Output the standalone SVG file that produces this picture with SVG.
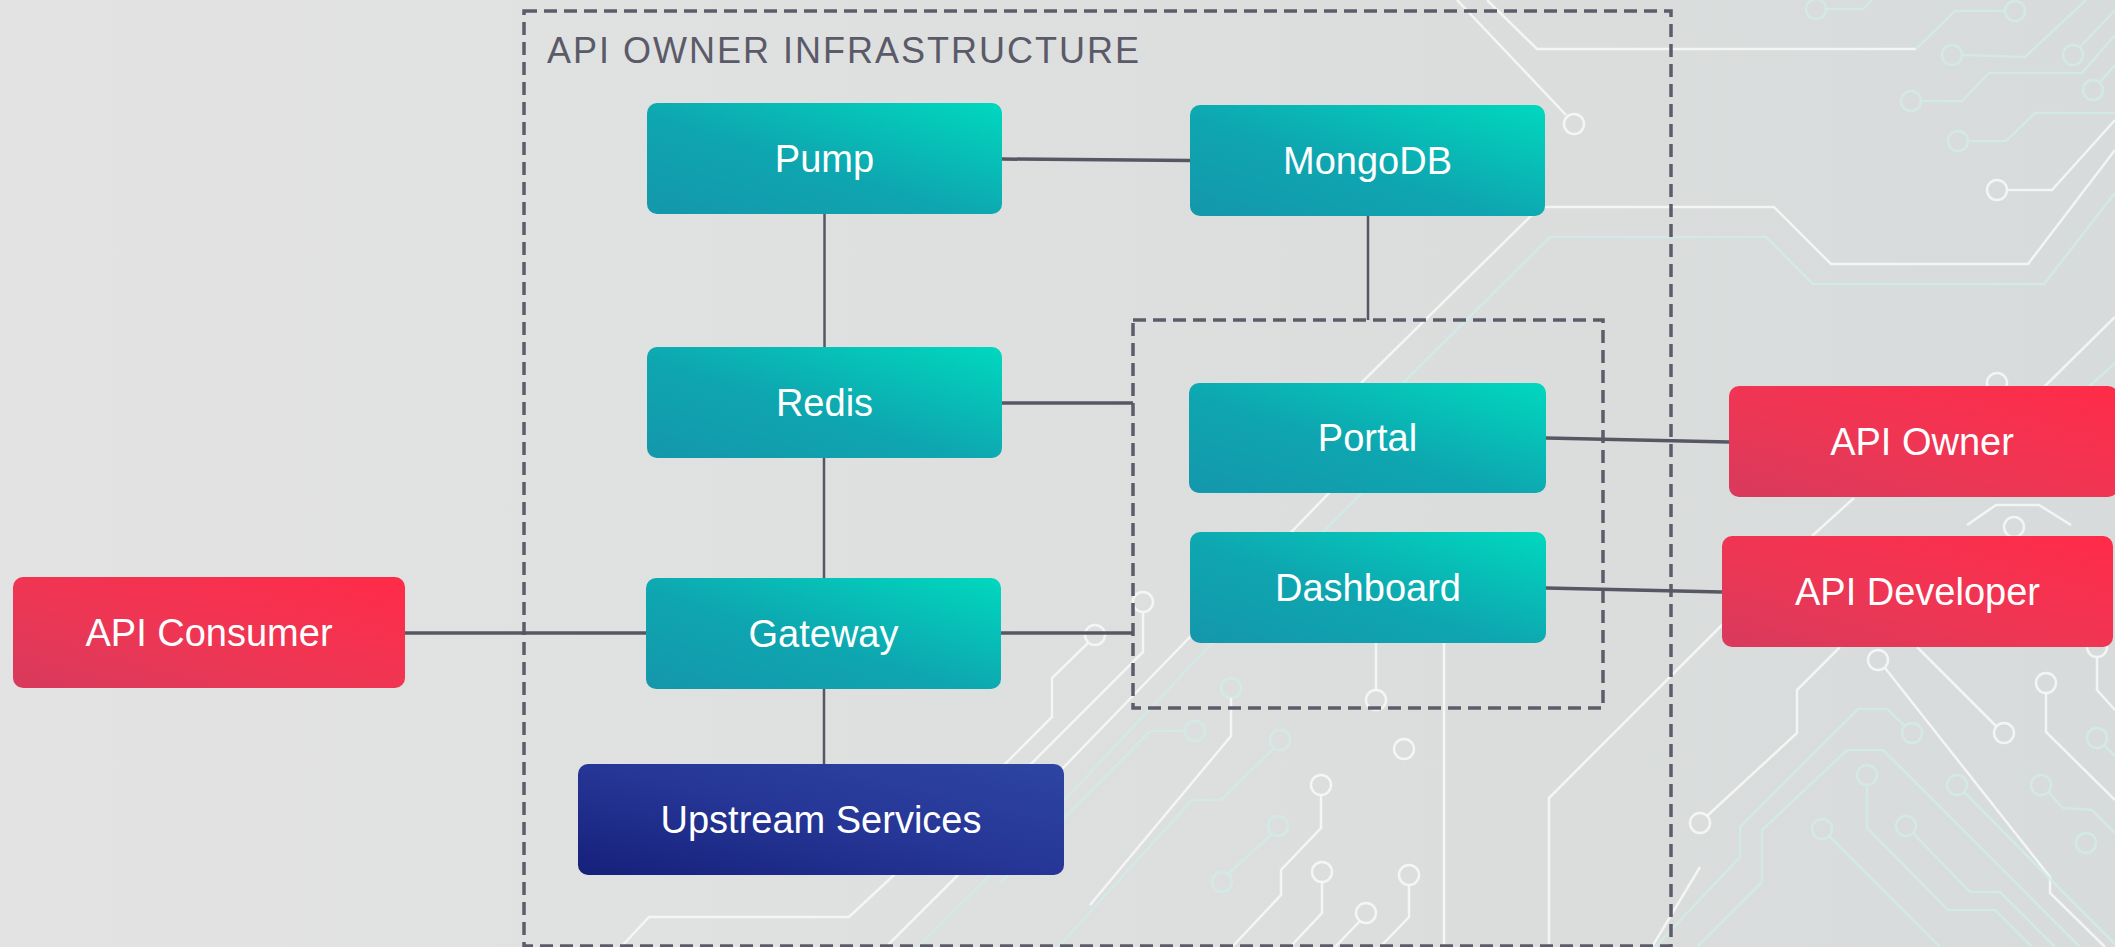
<svg xmlns="http://www.w3.org/2000/svg" width="2115" height="947" viewBox="0 0 2115 947">
<defs>
<linearGradient id="bg" x1="0" y1="0" x2="1" y2="0">
<stop offset="0" stop-color="#e3e3e3"/>
<stop offset="1" stop-color="#d8dbdb"/>
</linearGradient>
<linearGradient id="teal" x1="0" y1="1" x2="1" y2="0">
<stop offset="0" stop-color="#1497ab"/>
<stop offset="0.45" stop-color="#0ea6b0"/>
<stop offset="1" stop-color="#00d8be"/>
</linearGradient>
<linearGradient id="red" x1="0" y1="1" x2="1" y2="0">
<stop offset="0" stop-color="#d83a5c"/>
<stop offset="0.45" stop-color="#ee3654"/>
<stop offset="1" stop-color="#ff2b48"/>
</linearGradient>
<linearGradient id="blue" x1="0" y1="1" x2="1" y2="0">
<stop offset="0" stop-color="#15207a"/>
<stop offset="0.5" stop-color="#263696"/>
<stop offset="1" stop-color="#2d45a2"/>
</linearGradient>
<style>
.w{fill:none;stroke:#f6f7f7;stroke-width:2.5;opacity:0.9}
.t{fill:none;stroke:#d2eae5;stroke-width:2.5;opacity:0.9}
.c{fill:none;stroke:#f6f7f7;stroke-width:2.5;opacity:0.9}
.ct{fill:none;stroke:#d2eae5;stroke-width:2.5;opacity:0.9}
.dash{fill:none;stroke:#5c5c6a;stroke-width:3.5;stroke-dasharray:13 7}
.conn{fill:none;stroke:#575764;stroke-width:3.5}
.connv{fill:none;stroke:#575764;stroke-width:2.5}
.lbl{font-family:"Liberation Sans",Arial,sans-serif;font-size:38px;fill:#ffffff;text-anchor:middle}
.title{font-family:"Liberation Sans",Arial,sans-serif;font-size:36px;fill:#5a5a68;letter-spacing:2px}
</style>
</defs>
<rect width="2115" height="947" fill="url(#bg)"/>
<g id="circuit">
<path class="w" d="M1487,0 L1537,49 L1916,49"/>
<path class="t" d="M1916,49 L1955,11 L2005,11"/>
<circle class="ct" cx="2015" cy="11" r="10"/>
<path class="w" d="M1457,0 L1566,115"/>
<circle class="c" cx="1574" cy="124" r="10"/>
<path class="w" d="M2115,150 L2028,264 L1831,264 L1774,207 L1540,207 L1362,382 L1362,460 L1329,493 L1187,640 L1000,833 L958,875 L886,947"/>
<path class="t" d="M2115,193 L2044,284 L1813,284 L1766,237 L1550,237 L1404,382 L1404,455 L1362,493 L1210,645 L1058,807 L990,875 L918,947"/>
<path class="w" d="M1444,643 L1444,947"/>
<path class="w" d="M1376,643 L1376,690"/>
<circle class="c" cx="1376" cy="700" r="10"/>
<circle class="c" cx="1095" cy="635" r="10"/>
<path class="w" d="M1088,643 L1052,678 L1052,717 L894,875 L849,917 L649,917 L621,947"/>
<circle class="c" cx="1143" cy="602" r="10"/>
<path class="w" d="M1143,612 L1143,652 L1000,795"/>
<circle class="ct" cx="1280" cy="740" r="10"/>
<path class="t" d="M1274,748 L1221,800 L1192,800 L1058,947"/>
<circle class="ct" cx="1231" cy="688" r="10"/>
<path class="w" d="M1231,698 L1231,736 L1090,905"/>
<circle class="ct" cx="1195" cy="731" r="10"/>
<path class="t" d="M1185,731 L1150,731 L1000,883"/>
<circle class="c" cx="1321" cy="785" r="10"/>
<path class="w" d="M1321,795 L1321,828 L1281,870 L1281,895 L1232,947"/>
<circle class="ct" cx="1278" cy="826" r="10"/>
<path class="t" d="M1272,834 L1228,874"/>
<circle class="ct" cx="1222" cy="882" r="10"/>
<circle class="c" cx="1322" cy="872" r="10"/>
<path class="w" d="M1322,882 L1322,913 L1290,947"/>
<circle class="c" cx="1366" cy="913" r="10"/>
<path class="w" d="M1360,921 L1335,947"/>
<circle class="c" cx="1409" cy="875" r="10"/>
<path class="w" d="M1409,885 L1409,917 L1380,947"/>
<circle class="c" cx="1404" cy="749" r="10"/>
<path class="w" d="M1549,947 L1549,798 L1745,602"/>
<path class="w" d="M1700,867 L1652,947"/>
<circle class="c" cx="1700" cy="823" r="10"/>
<path class="w" d="M1707,816 L1797,733 L1797,690 L1840,647"/>
<circle class="c" cx="1878" cy="660" r="10"/>
<path class="w" d="M1885,668 L2050,877 L2050,893 L2105,947"/>
<path class="w" d="M1917,647 L1996,726"/>
<circle class="c" cx="2004" cy="733" r="10"/>
<circle class="c" cx="2046" cy="683" r="10"/>
<path class="w" d="M2046,693 L2046,732 L2115,800"/>
<circle class="c" cx="2097" cy="647" r="10"/>
<path class="w" d="M2097,657 L2097,690 L2115,710"/>
<circle class="ct" cx="1912" cy="733" r="10"/>
<path class="t" d="M1905,726 L1887,709 L1858,709 L1740,827 L1740,857 L1655,947"/>
<path class="t" d="M2080,947 L1883,750 L1847,750 L1762,830 L1762,882 L1697,947"/>
<circle class="ct" cx="1867" cy="775" r="10"/>
<path class="t" d="M1867,785 L1867,828 L1948,910 L1995,910 L2032,947"/>
<circle class="ct" cx="1906" cy="826" r="10"/>
<path class="t" d="M1913,833 L1970,892 L2000,892 L2055,947"/>
<circle class="ct" cx="1822" cy="829" r="10"/>
<path class="t" d="M1829,836 L1940,947"/>
<circle class="ct" cx="1957" cy="785" r="10"/>
<path class="t" d="M1964,792 L2053,882 L2115,944"/>
<circle class="ct" cx="2041" cy="785" r="10"/>
<path class="t" d="M2048,792 L2063,808 L2092,810 L2115,833"/>
<circle class="ct" cx="2086" cy="843" r="10"/>
<circle class="ct" cx="2097" cy="738" r="10"/>
<path class="t" d="M2104,745 L2115,756"/>
<circle class="ct" cx="1816" cy="9" r="10"/>
<path class="t" d="M1826,9 L1863,9 L1872,0"/>
<circle class="ct" cx="1952" cy="55" r="10"/>
<path class="t" d="M1962,55 L2025,57 L2086,0"/>
<circle class="ct" cx="2073" cy="55" r="10"/>
<path class="t" d="M2080,47 L2115,10"/>
<circle class="ct" cx="1911" cy="101" r="10"/>
<path class="t" d="M1921,101 L1962,101 L1989,73 L2082,73 L2115,35"/>
<circle class="ct" cx="1958" cy="141" r="10"/>
<path class="t" d="M1968,141 L2006,141 L2035,113 L2115,113"/>
<circle class="c" cx="1997" cy="190" r="10"/>
<path class="w" d="M2007,190 L2052,190 L2115,120"/>
<circle class="ct" cx="2093" cy="90" r="10"/>
<path class="t" d="M2100,82 L2115,65"/>
<circle class="c" cx="1997" cy="383" r="10"/>
<path class="w" d="M2044,387 L2115,317"/>
<path class="t" d="M2082,393 L2115,363"/>
<path class="w" d="M1812,536 L1854,498"/>
<path class="w" d="M1967,525 L1996,505 L2039,505 L2071,525"/>
<circle class="c" cx="2014" cy="527" r="10"/>
</g>
<g id="groups">
<rect id="api-owner-infrastructure" class="dash" x="524" y="11" width="1147" height="935"/>
<text class="title" x="547" y="63">API OWNER INFRASTRUCTURE</text>
<rect id="portal-dashboard-group" class="dash" x="1133" y="320" width="470" height="388"/>
</g>
<g id="connectors">
<path class="conn" d="M1002,159 L1190,160.5"/>
<path class="connv" d="M824.5,214 L824.5,347"/>
<path class="connv" d="M1368,216 L1368,320"/>
<path class="conn" d="M1002,403 L1133,403"/>
<path class="connv" d="M824,458 L824,578"/>
<path class="conn" d="M405,633 L646,633"/>
<path class="connv" d="M824,689 L824,764"/>
<path class="conn" d="M1001,633 L1133,633"/>
<path class="conn" d="M1546,438 L1729,442"/>
<path class="conn" d="M1546,588 L1722,592"/>
</g>
<g id="pump"><rect x="647" y="103" width="355" height="111" rx="10" fill="url(#teal)"/><text class="lbl" x="824.5" y="171.5">Pump</text></g>
<g id="mongodb"><rect x="1190" y="105" width="355" height="111" rx="10" fill="url(#teal)"/><text class="lbl" x="1367.5" y="173.5">MongoDB</text></g>
<g id="redis"><rect x="647" y="347" width="355" height="111" rx="10" fill="url(#teal)"/><text class="lbl" x="824.5" y="415.5">Redis</text></g>
<g id="gateway"><rect x="646" y="578" width="355" height="111" rx="10" fill="url(#teal)"/><text class="lbl" x="823.5" y="646.5">Gateway</text></g>
<g id="upstream-services"><rect x="578" y="764" width="486" height="111" rx="10" fill="url(#blue)"/><text class="lbl" x="821" y="832.5">Upstream Services</text></g>
<g id="portal"><rect x="1189" y="383" width="357" height="110" rx="10" fill="url(#teal)"/><text class="lbl" x="1367.5" y="451">Portal</text></g>
<g id="dashboard"><rect x="1190" y="532" width="356" height="111" rx="10" fill="url(#teal)"/><text class="lbl" x="1368" y="600.5">Dashboard</text></g>
<g id="api-consumer"><rect x="13" y="577" width="392" height="111" rx="10" fill="url(#red)"/><text class="lbl" x="209" y="645.5">API Consumer</text></g>
<g id="api-owner"><rect x="1729" y="386" width="389" height="111" rx="10" fill="url(#red)"/><text class="lbl" x="1922" y="454.5">API Owner</text></g>
<g id="api-developer"><rect x="1722" y="536" width="391" height="111" rx="10" fill="url(#red)"/><text class="lbl" x="1917.5" y="604.5">API Developer</text></g>
</svg>
